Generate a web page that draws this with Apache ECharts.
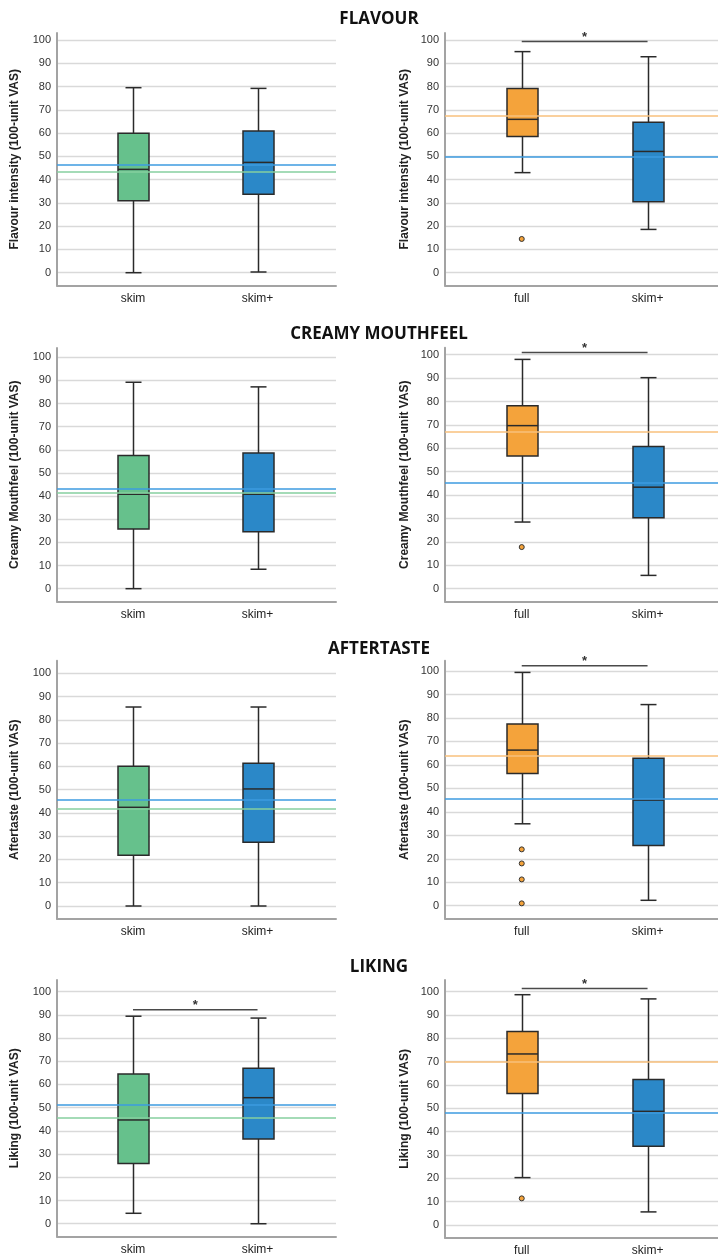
<!DOCTYPE html>
<html><head><meta charset="utf-8">
<script src="https://cdn.jsdelivr.net/npm/echarts@6/dist/echarts.min.js"></script>
<style>html,body{margin:0;padding:0;background:#fff}#c{width:718px;height:1259px}</style>
</head><body><div id="c"></div>
<script>
// ---------- DATA ----------
const sectionTitles = ['FLAVOUR', 'CREAMY MOUTHFEEL', 'AFTERTASTE', 'LIKING'];
const yAxisNames = ['Flavour intensity (100-unit VAS)', 'Creamy Mouthfeel (100-unit VAS)', 'Aftertaste (100-unit VAS)', 'Liking (100-unit VAS)'];
const leftCategories = ['skim', 'skim+'];
const rightCategories = ['full', 'skim+'];
const yTickValues = [0, 10, 20, 30, 40, 50, 60, 70, 80, 90, 100];

// box stats: [min, Q1, median, Q3, max]
const flavourLeft = [[0, 30.9, 44.4, 59.9, 79.5], [0.3, 33.7, 47.4, 60.9, 79.2]];
const flavourRight = [[43.0, 58.5, 65.9, 79.2, 95.0], [18.6, 30.5, 52.1, 64.6, 92.8]];
const creamyLeft = [[0, 25.8, 40.8, 57.5, 89.2], [8.4, 24.6, 40.8, 58.6, 87.2]];
const creamyRight = [[28.5, 56.7, 69.7, 78.2, 98.0], [5.7, 30.3, 43.4, 60.8, 90.2]];
const aftertasteLeft = [[0, 21.8, 42.4, 60.0, 85.5], [0, 27.4, 50.3, 61.3, 85.5]];
const aftertasteRight = [[34.9, 56.3, 66.3, 77.4, 99.4], [2.3, 25.6, 45.0, 62.8, 85.7]];
const likingLeft = [[4.5, 25.9, 44.7, 64.5, 89.4], [0, 36.5, 54.3, 67.0, 88.6]];
const likingRight = [[20.3, 56.3, 73.3, 82.9, 98.7], [5.6, 33.7, 48.7, 62.3, 96.9]];

// outliers of the "full" group (right panels)
const flavourOutliers = [14.5];
const creamyOutliers = [17.8];
const aftertasteOutliers = [24.0, 18.0, 11.2, 1.0];
const likingOutliers = [11.4];

// mean reference lines [first group, second group]
const flavourLeftMeans = [43.4, 46.3];
const flavourRightMeans = [67.6, 50.0];
const creamyLeftMeans = [41.6, 43.1];
const creamyRightMeans = [67.0, 45.4];
const aftertasteLeftMeans = [41.7, 45.6];
const aftertasteRightMeans = [63.8, 45.5];
const likingLeftMeans = [45.8, 51.4];
const likingRightMeans = [69.9, 47.9];

// significance bars (height), null = none
const flavourSig = [null, 99.3];
const creamySig = [null, 100.9];
const aftertasteSig = [null, 102.3];
const likingSig = [92.2, 101.4];

// ---------- STYLE / LAYOUT ----------
const GREEN = '#66c18c', BLUE = '#2b88c8', ORANGE = '#f4a33b';
const GREEN_MEAN = '#86cf9f', BLUE_MEAN = '#3d9be0', ORANGE_MEAN = '#f8c07c';
const FONT = 'Liberation Sans';

const rowsLayout = [
  { L: { top: 33, bottom: 285.5, max: 103 }, R: { top: 33, bottom: 285.5, max: 103 }, titleTop: 6 },
  { L: { top: 348, bottom: 601.4, max: 104 }, R: { top: 347.7, bottom: 601.6, max: 103 }, titleTop: 321 },
  { L: { top: 660.7, bottom: 918.8, max: 105.4 }, R: { top: 660.7, bottom: 918.6, max: 104.4 }, titleTop: 636 },
  { L: { top: 980, bottom: 1236.5, max: 105 }, R: { top: 980, bottom: 1237.8, max: 105 }, titleTop: 954 }
];
const colLayout = {
  L: { left: 57, width: 279, xmin: -0.61, xmax: 1.63, nameGap: 36 },
  R: { left: 445, width: 273, xmin: -0.61, xmax: 1.56, nameGap: 34 }
};

const rows = [
  { L: flavourLeft, R: flavourRight, out: flavourOutliers, mL: flavourLeftMeans, mR: flavourRightMeans, sig: flavourSig },
  { L: creamyLeft, R: creamyRight, out: creamyOutliers, mL: creamyLeftMeans, mR: creamyRightMeans, sig: creamySig },
  { L: aftertasteLeft, R: aftertasteRight, out: aftertasteOutliers, mL: aftertasteLeftMeans, mR: aftertasteRightMeans, sig: aftertasteSig },
  { L: likingLeft, R: likingRight, out: likingOutliers, mL: likingLeftMeans, mR: likingRightMeans, sig: likingSig }
];

function boxRenderer(fills) {
  return function (params, api) {
    const x = api.value(0);
    const pMin = api.coord([x, api.value(1)]);
    const pQ1 = api.coord([x, api.value(2)]);
    const pMed = api.coord([x, api.value(3)]);
    const pQ3 = api.coord([x, api.value(4)]);
    const pMax = api.coord([x, api.value(5)]);
    const cx = Math.round(pMed[0]) + 0.5;
    const bw = 31, cw = 16;
    const ls = { stroke: '#2a2a2a', lineWidth: 1.5 };
    return {
      type: 'group', children: [
        { type: 'line', shape: { x1: cx, y1: pMax[1], x2: cx, y2: pQ3[1] }, style: ls },
        { type: 'line', shape: { x1: cx, y1: pQ1[1], x2: cx, y2: pMin[1] }, style: ls },
        { type: 'line', shape: { x1: cx - cw / 2, y1: pMax[1], x2: cx + cw / 2, y2: pMax[1] }, style: ls },
        { type: 'line', shape: { x1: cx - cw / 2, y1: pMin[1], x2: cx + cw / 2, y2: pMin[1] }, style: ls },
        { type: 'rect', shape: { x: cx - bw / 2, y: pQ3[1], width: bw, height: pQ1[1] - pQ3[1] },
          style: { fill: fills[params.dataIndex], stroke: '#2a2a2a', lineWidth: 1.5 } },
        { type: 'line', shape: { x1: cx - bw / 2, y1: pMed[1], x2: cx + bw / 2, y2: pMed[1] }, style: ls }
      ]
    };
  };
}

function sigRenderer(params, api) {
  const a = api.coord([api.value(0), api.value(2)]);
  const b = api.coord([api.value(1), api.value(2)]);
  return {
    type: 'group', children: [
      { type: 'line', shape: { x1: a[0], y1: a[1], x2: b[0], y2: b[1] }, style: { stroke: '#4a4a4a', lineWidth: 1.5 } },
      { type: 'text', x: (a[0] + b[0]) / 2, y: a[1] - 4,
        style: { text: '*', fill: '#333', font: 'bold 13px "' + FONT + '"', align: 'center', verticalAlign: 'middle' } }
    ]
  };
}

const option = { animation: false, backgroundColor: '#fff', title: [], grid: [], xAxis: [], yAxis: [], series: [] };

rows.forEach(function (row, r) {
  option.title.push({
    text: sectionTitles[r], left: 374, top: rowsLayout[r].titleTop, textAlign: 'center',
    textStyle: { fontFamily: 'Open Sans', fontWeight: 'bold', fontSize: 17, color: '#111' }
  });
  ['L', 'R'].forEach(function (side) {
    const gi = option.grid.length;
    const lay = rowsLayout[r][side];
    const col = colLayout[side];
    const cats = side === 'L' ? leftCategories : rightCategories;
    option.grid.push({ left: col.left, top: lay.top, width: col.width, height: lay.bottom - lay.top });
    option.xAxis.push({
      type: 'value', gridIndex: gi, min: col.xmin, max: col.xmax,
      axisLine: { show: true, onZero: false, lineStyle: { color: '#a3a3a3', width: 2 } },
      axisTick: { show: false, customValues: [0, 1] },
      axisLabel: { customValues: [0, 1], formatter: function (v) { return cats[Math.round(v)]; },
        fontFamily: FONT, fontSize: 12, color: '#222', margin: 7 },
      splitLine: { show: false }
    });
    option.yAxis.push({
      type: 'value', gridIndex: gi, min: -5.5, max: lay.max,
      name: yAxisNames[r], nameLocation: 'middle', nameGap: col.nameGap,
      nameTextStyle: { fontFamily: FONT, fontWeight: 'bold', fontSize: 12, color: '#222' },
      axisLine: { show: true, onZero: false, lineStyle: { color: '#a3a3a3', width: 2 } },
      axisTick: { show: false, customValues: yTickValues },
      axisLabel: { customValues: yTickValues, fontFamily: FONT, fontSize: 11, color: '#333', margin: 6 },
      splitLine: { show: true, lineStyle: { color: '#d9d9d9', width: 1.3 } }
    });
    const stats = side === 'L' ? row.L : row.R;
    const fills = side === 'L' ? [GREEN, BLUE] : [ORANGE, BLUE];
    const meanCols = side === 'L' ? [GREEN_MEAN, BLUE_MEAN] : [ORANGE_MEAN, BLUE_MEAN];
    const means = side === 'L' ? row.mL : row.mR;
    option.series.push({
      type: 'custom', xAxisIndex: gi, yAxisIndex: gi, z: 2, silent: true,
      renderItem: boxRenderer(fills),
      encode: { x: 0, y: [1, 2, 3, 4, 5] },
      data: stats.map(function (s, i) { return [i].concat(s); })
    });
    option.series.push({
      type: 'line', xAxisIndex: gi, yAxisIndex: gi, z: 3, data: [], silent: true,
      markLine: {
        silent: true, symbol: 'none', label: { show: false }, animation: false,
        data: means.map(function (m, i) { return { yAxis: m, lineStyle: { color: meanCols[i], width: 1.6, type: 'solid' } }; })
      }
    });
    if (side === 'R') {
      option.series.push({
        type: 'scatter', xAxisIndex: gi, yAxisIndex: gi, z: 4, silent: true,
        symbol: 'circle', symbolSize: 5,
        itemStyle: { color: ORANGE, borderColor: '#333', borderWidth: 1, opacity: 1 },
        data: row.out.map(function (v) { return [0, v]; })
      });
    }
    const sigVal = row.sig[side === 'L' ? 0 : 1];
    if (sigVal !== null) {
      option.series.push({
        type: 'custom', xAxisIndex: gi, yAxisIndex: gi, z: 4, silent: true,
        renderItem: sigRenderer, encode: { x: [0, 1], y: 2 },
        data: [[0, 1, sigVal]]
      });
    }
  });
});

const chart = echarts.init(document.getElementById('c'), null, { renderer: 'canvas' });
chart.setOption(option);
</script>
</body></html>
